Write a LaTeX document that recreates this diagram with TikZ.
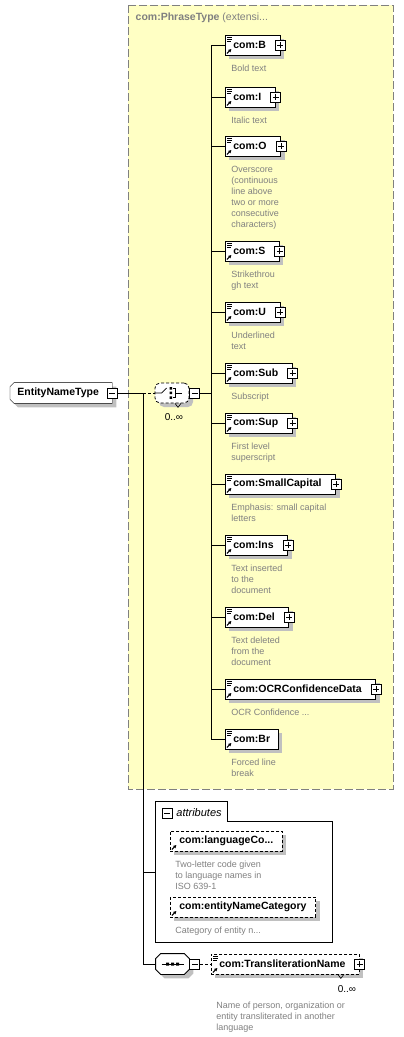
\documentclass[tikz,border=0pt]{standalone}
\usepackage{fontspec}
\setmainfont{Liberation Sans}
\usetikzlibrary{positioning,arrows.meta,shadows,backgrounds}
\definecolor{extfill}{RGB}{255,255,196}
\definecolor{frame}{RGB}{128,128,128}
\definecolor{doc}{RGB}{128,128,128}
\definecolor{shade}{RGB}{192,192,192}

\begin{document}
\begin{tikzpicture}[x=1pt, y=1pt, line width=.8pt,
  shad/.style={general shadow={fill=shade, shadow xshift=4pt, shadow yshift=-4pt}},
  docref/.style={path picture={
    \draw[solid, line width=.7pt]
      ([shift={(2,-2)}]path picture bounding box.north west) -- +(5,0)
      ([shift={(2,-4)}]path picture bounding box.north west) -- +(5,0)
      ([shift={(2,-6)}]path picture bounding box.north west) -- +(4,0);
    \draw[solid, line width=1pt, -{Triangle[length=3pt,width=3pt]}]
      ([shift={(1.5,1.5)}]path picture bounding box.south west) -- +(4.5,4.5);}},
  refonly/.style={path picture={
    \draw[solid, line width=1pt, -{Triangle[length=3pt,width=3pt]}]
      ([shift={(1.5,1.5)}]path picture bounding box.south west) -- +(4.5,4.5);}},
  elem/.style={draw, fill=white, shad, docref, anchor=west, minimum height=20pt,
               inner xsep=8pt, inner ysep=0pt, font=\bfseries\fontsize{10.5}{12}\selectfont},
  attel/.style={elem, refonly, dash pattern=on 3pt off 2pt, inner xsep=9pt},
  plus/.style={execute at end node=\hspace*{6pt}},
  desc/.style={text=doc, font=\fontsize{9}{11}\selectfont, align=left, inner sep=0pt},
  pbox/.style={draw, solid, fill=white, minimum size=10pt, inner sep=0pt,
               path picture={\draw[solid, line width=.8pt]
                 ([xshift=-3]path picture bounding box.center) -- +(6,0)
                 ([yshift=-3]path picture bounding box.center) -- +(0,6);}},
  mbox/.style={draw, solid, fill=white, minimum size=10pt, inner sep=0pt,
               path picture={\draw[solid, line width=.8pt]
                 ([xshift=-3]path picture bounding box.center) -- +(6,0);}},
  root/.style={anchor=west, minimum height=20pt, inner xsep=7pt, inner ysep=0pt,
               font=\bfseries\fontsize{10.5}{12}\selectfont},
  card/.style={font=\fontsize{10}{12}\selectfont, inner sep=0pt},
  opt/.style={dash pattern=on 3pt off 2pt}]
\useasboundingbox (0,0) rectangle (404,-1037);

% extension frame
\draw[frame, fill=extfill, line width=1pt, dash pattern=on 8pt off 3pt] (128,-5) rectangle (393,-789);
\node[anchor=west, text=frame, font=\fontsize{10.5}{12}\selectfont] (ptitle) at (132,-18)
  {\textbf{com:PhraseType} (extensi...};

% root
\node[root, plus] (ent) at (10,-393) {EntityNameType};
\begin{scope}[on background layer]
\draw[fill=white, shad] ([yshift=-4]ent.north west) -- ([xshift=4]ent.north west) -- (ent.north east)
  -- (ent.south east) -- ([xshift=4]ent.south west) -- ([yshift=4]ent.south west) -- cycle;
\end{scope}
\node[mbox] (entM) at (ent.east) {};
\coordinate (j) at (143,-393);

% choice
\node[draw, opt, fill=white, shad, rounded corners=5pt, minimum width=34pt,
      minimum height=20pt, inner sep=0pt] (ch) at (172,-393) {};
\draw[solid, line width=.7pt] (ch.west) -- ++(7,0) -- ++(5,5);
\fill ([shift={(-2.5,3.5)}]ch.center) rectangle ++(2.5,2.5)
      ([shift={(-2.5,-1.2)}]ch.center) rectangle ++(2.5,2.5)
      ([shift={(-2.5,-5.9)}]ch.center) rectangle ++(2.5,2.5);
\draw[line width=.7pt] ([shift={(1,4.7)}]ch.center) -- ++(2.5,0) -- ++(0,-9.4) -- ++(-2.5,0)
      ([shift={(3.5,0)}]ch.center) -- ++(6,0);
\draw[line width=.6pt] ([xshift=3]ch.south) -- ++(3,-4) -- ++(3,4);
\node[mbox, anchor=west] (chM) at (ch.east) {};
\node[card] (chC) at (174,-417) {0..∞};
\coordinate (bus) at (211,-393);

% elements of the choice
\node[elem, plus] (b) at (225,-45) {com:B};
\node[desc, below right=9.5pt and 6pt of b.south west] (bD) {Bold text};
\node[elem, plus] (i) at (225,-97) {com:I};
\node[desc, below right=9.5pt and 6pt of i.south west] (iD) {Italic text};
\node[elem, plus] (o) at (225,-146) {com:O};
\node[desc, below right=9.5pt and 6pt of o.south west] (oD)
  {Overscore\\(continuous\\line above\\two or more\\consecutive\\characters)};
\node[elem, plus] (s) at (225,-251) {com:S};
\node[desc, below right=9.5pt and 6pt of s.south west] (sD) {Strikethrou\\gh text};
\node[elem, plus] (u) at (225,-312) {com:U};
\node[desc, below right=9.5pt and 6pt of u.south west] (uD) {Underlined\\text};
\node[elem, plus] (sub) at (225,-373) {com:Sub};
\node[desc, below right=9.5pt and 6pt of sub.south west] (subD) {Subscript};
\node[elem, plus] (sup) at (225,-423) {com:Sup};
\node[desc, below right=9.5pt and 6pt of sup.south west] (supD) {First level\\superscript};
\node[elem, plus] (sc) at (225,-484) {com:SmallCapital};
\node[desc, below right=9.5pt and 6pt of sc.south west] (scD) {Emphasis: small capital\\letters};
\node[elem, plus] (ins) at (225,-545) {com:Ins};
\node[desc, below right=9.5pt and 6pt of ins.south west] (insD) {Text inserted\\to the\\document};
\node[elem, plus] (del) at (225,-617) {com:Del};
\node[desc, below right=9.5pt and 6pt of del.south west] (delD) {Text deleted\\from the\\document};
\node[elem, plus] (ocr) at (225,-689) {com:OCRConfidenceData};
\node[desc, below right=9.5pt and 6pt of ocr.south west] (ocrD) {OCR Confidence ...};
\node[elem] (br) at (225,-739) {com:Br};
\node[desc, below right=9.5pt and 6pt of br.south west] (brD) {Forced line\\break};
\foreach \n in {b,i,o,s,u,sub,sup,sc,ins,del,ocr}
  \node[pbox] (\n P) at (\n.east) {};

% attributes
\node[minimum width=176pt, minimum height=140pt, inner sep=0pt] (attrs) at (244,-872) {};
\draw (attrs.north west) -- ++(72,0) -- ++(0,-20) -| (attrs.south east) -- (attrs.south west) -- cycle;
\node[mbox] (attM) at (167,-813) {};
\node[anchor=west, inner sep=0pt, font=\itshape\fontsize{11}{12}\selectfont] (attT) at (176,-813) {attributes};
\node[attel] (lang) at (170,-841) {com:languageCo...};
\node[desc, below right=9pt and 5pt of lang.south west] (langD)
  {Two-letter code given\\to language names in\\ISO 639-1};
\node[attel] (cat) at (170,-907) {com:entityNameCategory};
\node[desc, below right=9.5pt and 5pt of cat.south west] (catD) {Category of entity n...};

% sequence
\node[minimum width=33pt, minimum height=20pt, inner sep=0pt] (seq) at (172.5,-964) {};
\draw[fill=white, shad] ([xshift=5]seq.north west) -- ([xshift=-5]seq.north east)
  -- ([yshift=-5]seq.north east) -- ([yshift=5]seq.south east)
  -- ([xshift=-5]seq.south east) -- ([xshift=5]seq.south west)
  -- ([yshift=5]seq.south west) -- ([yshift=-5]seq.north west) -- cycle;
\draw[line width=.7pt] ([xshift=-11]seq.center) -- ([xshift=11]seq.center);
\fill ([shift={(-6.5,-1.5)}]seq.center) rectangle ++(3,3)
      ([shift={(-1.5,-1.5)}]seq.center) rectangle ++(3,3)
      ([shift={(3.5,-1.5)}]seq.center) rectangle ++(3,3);
\node[mbox, anchor=west] (seqM) at (seq.east) {};
\node[elem, plus, dash pattern=on 3pt off 2pt] (tn) at (211,-964) {com:TransliterationName};
\node[pbox] (tnP) at (tn.east) {};
\draw[line width=.6pt] ([xshift=-22]tn.south east) -- ++(3,-4) -- ++(3,4);
\node[card] (tnC) at (347,-989) {0..∞};
\node[desc, below right=27.5pt and 5pt of tn.south west] (tnD)
  {Name of person, organization or\\entity transliterated in another\\language};

% connectors
\draw (entM.east) -- (j);
\draw[opt] (j) -- (ch.west);
\draw (j) |- (attrs.west);
\draw (j) |- (seq.west);
\draw (chM.east) -- (bus);
\draw (bus |- b.west) -- (bus |- br.west);
\foreach \n in {b,i,o,s,u,sub,sup,sc,ins,del,ocr,br}
  \draw (bus |- \n.west) -- (\n.west);
\draw[opt] (seqM.east) -- (tn.west);
\end{tikzpicture}
\end{document}
